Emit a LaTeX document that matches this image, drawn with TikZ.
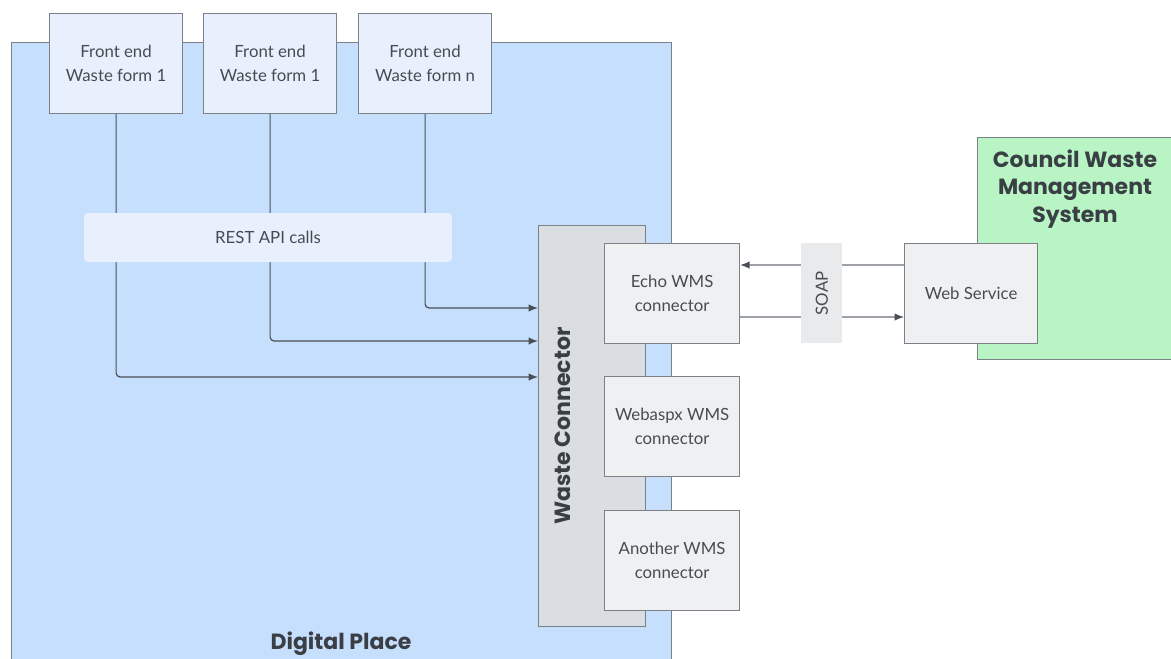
\documentclass[tikz,border=0pt]{standalone}
\usepackage{fontspec}
\setmainfont{Lato}
\newfontfamily\headfont{Poppins}
\usetikzlibrary{arrows.meta,positioning,calc}
\definecolor{ink}{HTML}{474C52}
\definecolor{headink}{HTML}{3A3F45}
\definecolor{edge}{HTML}{7C8188}
\definecolor{wire}{HTML}{4A4F57}
\definecolor{soapwire}{HTML}{9EA2A7}
\definecolor{place}{HTML}{C6DFFD}
\definecolor{formfill}{HTML}{E9F0FD}
\definecolor{restfill}{HTML}{E8F0FD}
\definecolor{hubfill}{HTML}{DADEE2}
\definecolor{plugfill}{HTML}{EFF0F2}
\definecolor{soapfill}{HTML}{E9EAEC}
\definecolor{council}{HTML}{B9F5C4}
\tikzset{
  zone/.style={draw=edge, line width=0.9pt, anchor=north west, inner sep=0pt},
  formbox/.style={draw=edge, fill=formfill, line width=0.9pt, anchor=north west,
                  minimum width=99.75pt, minimum height=75pt, inner sep=0pt,
                  align=center, text=ink, font=\fontsize{12.6}{18}\selectfont},
  plugbox/.style={formbox, fill=plugfill, minimum width=101.25pt},
  headlabel/.style={text=headink, align=center,
                    font=\headfont\bfseries\fontsize{16.5}{20.5}\selectfont},
  call/.style={-{Latex[length=7pt,width=5.5pt]}, line width=0.9pt, draw=wire, rounded corners=3pt},
  soapcall/.style={-{Latex[length=7pt,width=5.5pt,color=wire]}, line width=0.9pt, draw=soapwire}
}
\begin{document}
\begin{tikzpicture}[x=0.75pt,y=-0.75pt]
  \useasboundingbox (0,0) rectangle (1171,658);
  % containers
  \node[zone, fill=place, minimum width=495pt, minimum height=480pt] (dp) at (11,42) {};
  \node[headlabel] (dplabel) at (341,644) {Digital Place};
  \node[zone, fill=council, minimum width=157.5pt, minimum height=166.5pt] (cwms) at (977,137) {};
  \node[headlabel, anchor=north] (cwmslabel) at (1075,145) {Council Waste\\Management\\System};

  % front end forms
  \node[formbox] (fe1) at (49,13) {Front end\\Waste form 1};
  \node[formbox] (fe2) at (203,13) {Front end\\Waste form 1};
  \node[formbox] (fe3) at (358,13) {Front end\\Waste form n};

  % waste connector and its plug-ins
  \node[zone, fill=hubfill, minimum width=80.25pt, minimum height=300.75pt] (wc) at (538,225) {};
  \node[headlabel, rotate=90] (wclabel) at (563,426) {Waste Connector};
  \node[plugbox] (echo) at (604,243) {Echo WMS\\connector};
  \node[plugbox] (webaspx) at (604,376) {Webaspx WMS\\connector};
  \node[plugbox] (another) at (604,510) {Another WMS\\connector};
  \node[formbox, fill=plugfill] (ws) at (904,243) {Web Service};

  % REST calls
  \draw[call] (fe3.south) |- ($(wc.north west)+(0,83)$);
  \draw[call] (fe2.south) |- ($(wc.north west)+(0,116)$);
  \draw[call] (fe1.south) |- ($(wc.north west)+(0,152)$);
  \node[fill=restfill, rounded corners=3pt, minimum width=276pt, minimum height=36.75pt,
        text=ink, font=\fontsize{12.6}{18}\selectfont] (rest) at (268,237.5) {REST API calls};

  % SOAP
  \draw[soapcall] ($(ws.north west)+(0,22)$) -- ($(echo.north east)+(0,22)$);
  \draw[soapcall] ($(echo.north east)+(0,74)$) -- ($(ws.north west)+(0,74)$);
  \node[fill=soapfill, anchor=north west, minimum width=30.75pt, minimum height=75pt, inner sep=0pt] (soapbox) at (801,243) {};
  \node[rotate=90, text=ink, font=\fontsize{12.6}{14}\selectfont] (soap) at (soapbox.center) {SOAP};
\end{tikzpicture}
\end{document}
